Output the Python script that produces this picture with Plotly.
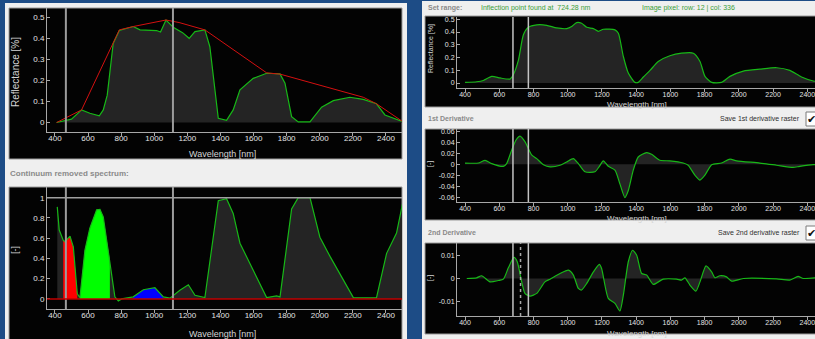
import plotly.graph_objects as go

W, H = 815, 339
FONT = "Liberation Sans Narrow, Arial Narrow, Liberation Sans, Arial, sans-serif"

# ---- spectrum of the selected pixel (left, with convex hull) ----
WL_LEFT = [410, 460, 500, 561, 611, 668, 692, 716, 752, 789, 873, 914, 1014, 1038, 1071,
           1115, 1171, 1211, 1246, 1306, 1336, 1387, 1437, 1477, 1518, 1598, 1679, 1760,
           1790, 1830, 1870, 1941, 2011, 2082, 2182, 2263, 2343, 2394, 2485, 2500]
REFL_LEFT = [0.0, 0.01, 0.016, 0.06, 0.044, 0.032, 0.06, 0.13, 0.376, 0.437, 0.456, 0.44,
             0.437, 0.43, 0.487, 0.452, 0.427, 0.40, 0.432, 0.44, 0.36, 0.02, 0.01, 0.06,
             0.155, 0.21, 0.234, 0.231, 0.187, 0.028, 0.003, 0.003, 0.073, 0.104, 0.12,
             0.11, 0.089, 0.036, 0.01, 0.005]
HULL_WL = [410, 561, 789, 873, 1071, 1150, 1306, 1679, 1760, 2263, 2343, 2500]
HULL_REFL = [0.0, 0.06, 0.44, 0.456, 0.487, 0.475, 0.44, 0.236, 0.23, 0.12, 0.089, 0.005]

# ---- continuum removed spectrum ----
CR_WL = [414, 426, 450, 460, 491, 511, 535, 551, 581, 611, 652, 672, 692, 732, 762, 783,
         803, 873, 934, 1004, 1055, 1095, 1155, 1206, 1246, 1306, 1387, 1437, 1477, 1518,
         1598, 1679, 1739, 1760, 1830, 1870, 1941, 2001, 2062, 2203, 2303, 2343, 2404,
         2464, 2500]
CR_VALUES = [0.91, 0.68, 0.58, 0.565, 0.62, 0.515, 0.05, 0.013, 0.48, 0.70, 0.88, 0.885,
             0.81, 0.38, 0.02, -0.02, 0.0, 0.02, 0.09, 0.11, 0.02, 0.007, 0.086, 0.14,
             0.036, 0.013, 0.97, 0.99, 0.845, 0.55, 0.28, 0.013, 0.03, 0.02, 0.89, 1.0,
             1.0, 0.61, 0.42, 0.013, 0.01, 0.013, 0.45, 0.65, 0.94]
BANDS_NM = [(445, 535), (551, 752), (863, 1055)]
BAND_COLORS = ["#ff0000", "#00ff00", "#0000ff"]

# ---- spectrum shown in the derivative view ----
WL_RIGHT = [400, 468, 507, 556, 604, 663, 682, 712, 741, 770, 819, 877, 935, 994, 1023,
            1052, 1081, 1111, 1150, 1179, 1208, 1276, 1296, 1325, 1354, 1393, 1412, 1442,
            1481, 1529, 1597, 1665, 1734, 1773, 1802, 1841, 1899, 1948, 2026, 2123, 2220,
            2298, 2366, 2435, 2460]
REFL_RIGHT = [0.005, 0.01, 0.02, 0.052, 0.04, 0.031, 0.065, 0.18, 0.378, 0.437, 0.456,
              0.453, 0.432, 0.427, 0.443, 0.474, 0.469, 0.437, 0.427, 0.406, 0.422, 0.417,
              0.39, 0.208, 0.078, 0.005, 0.005, 0.047, 0.099, 0.169, 0.214, 0.234, 0.234,
              0.169, 0.052, 0.005, 0.005, 0.052, 0.094, 0.109, 0.12, 0.099, 0.047, 0.016,
              0.012]

D1_WL = [400, 478, 517, 556, 624, 643, 673, 698, 721, 750, 789, 819, 858, 897, 955, 994,
         1033, 1062, 1101, 1159, 1185, 1208, 1237, 1276, 1305, 1334, 1354, 1383, 1412,
         1461, 1490, 1539, 1597, 1675, 1704, 1743, 1773, 1802, 1841, 1899, 1948, 1987,
         2123, 2220, 2317, 2356, 2435, 2460]
D1_VALUES = [0.002, 0.002, 0.007, 0.001, -0.004, 0.001, 0.026, 0.044, 0.051, 0.041, 0.017,
             0.010, -0.001, -0.005, -0.002, 0.004, 0.010, 0.001, -0.014, -0.014, -0.004,
             0.006, -0.004, -0.011, -0.036, -0.061, -0.048, -0.011, 0.013, 0.021, 0.018,
             0.007, 0.006, 0.002, -0.002, -0.020, -0.029, -0.020, -0.001, 0.002, 0.009,
             0.006, 0.002, -0.002, -0.006, -0.004, -0.001, -0.001]

D2_WL = [410, 468, 497, 546, 595, 624, 653, 686, 705, 731, 750, 780, 819, 867, 897, 955,
         1004, 1033, 1062, 1081, 1111, 1150, 1185, 1198, 1237, 1276, 1305, 1325, 1354,
         1379, 1403, 1432, 1461, 1500, 1558, 1636, 1665, 1685, 1714, 1749, 1773, 1808,
         1841, 1860, 1889, 1928, 1958, 2026, 2220, 2298, 2346, 2376, 2444, 2460]
D2_VALUES = [0.0, 0.0003, 0.0012, -0.0015, -0.0009, -0.0003, 0.0047, 0.0093, 0.0074,
             -0.0015, -0.0066, -0.0078, -0.0066, -0.0015, -0.0003, 0.0022, 0.0037, 0.0015,
             -0.0044, -0.0051, -0.0022, 0.0029, 0.0062, 0.0044, -0.0088, -0.011, -0.0144,
             -0.0074, 0.0074, 0.0125, 0.0103, 0.0022, 0.0015, -0.0026, -0.0003, -0.0003,
             -0.0007, 0.0003, -0.0029, -0.0056, -0.0015, 0.0056, 0.0029, 0.0003, 0.0012,
             0.0007, -0.0012, 0.0, -0.0002, -0.0007, 0.0009, 0.0, 0.0003, 0.0003]

# range markers (nm)
LEFT_MARKERS = [466, 1113]
RIGHT_MARKERS = [680, 770]
INFLECTION_NM = 724.28
PIXEL_ROW, PIXEL_COL = 12, 336

X_TICKS = [400, 600, 800, 1000, 1200, 1400, 1600, 1800, 2000, 2200, 2400]
REFL_TICKS = [0, 0.1, 0.2, 0.3, 0.4, 0.5]
REFL_TICKTEXT = ["0", "0.1", "0.2", "0.3", "0.4", "0.5"]
CR_TICKS = [0, 0.2, 0.4, 0.6, 0.8, 1]
CR_TICKTEXT = ["0", "0.2", "0.4", "0.6", "0.8", "1"]
D1_TICKS = [-0.06, -0.04, -0.02, 0, 0.02, 0.04, 0.06]
D1_TICKTEXT = ["-0.06", "-0.04", "-0.02", "0", "0.02", "0.04", "0.06"]
D2_TICKS = [-0.01, 0, 0.01]
D2_TICKTEXT = ["-0.01", "0", "0.01"]

# ---- colours ----
BLUE_BG = "#1d4c86"
PANEL = "#efefef"
PLOT_BG = "#030303"
AREA = "#242424"
GREEN = "#17b817"
HULL_RED = "#d41010"
AXIS = "#a8a8a8"
TICK_TXT = "#e4e4e4"
TITLE_TXT = "#d4d4d4"


def fx(px):
    return px / W


def fy(py):
    return 1 - py / H


fig = go.Figure()

# subplot frames in pixels: (x0, x1), (y_top, y_bottom), ranges, tick font size
frames = {
    1: dict(x=(47, 402), y=(8, 132), xr=[352, 2497], yr=[-0.045, 0.544],
            tv=REFL_TICKS, tt=REFL_TICKTEXT, fs=8, so=-5),
    2: dict(x=(47, 402), y=(187, 309), xr=[352, 2497], yr=[-0.10, 1.106],
            tv=CR_TICKS, tt=CR_TICKTEXT, fs=8, so=-5),
    3: dict(x=(457, 815), y=(17, 88), xr=[353, 2445], yr=[-0.039, 0.518],
            tv=REFL_TICKS, tt=REFL_TICKTEXT, fs=7, so=-3),
    4: dict(x=(457, 815), y=(129, 202), xr=[353, 2445], yr=[-0.069, 0.064],
            tv=D1_TICKS, tt=D1_TICKTEXT, fs=7, so=-3),
    5: dict(x=(457, 815), y=(243, 316), xr=[353, 2445], yr=[-0.0166, 0.0157],
            tv=D2_TICKS, tt=D2_TICKTEXT, fs=7, so=-3),
}

layout_axes = {}
for i, f in frames.items():
    sx = "" if i == 1 else str(i)
    layout_axes["xaxis" + sx] = dict(
        domain=[fx(f["x"][0]), fx(f["x"][1])], range=f["xr"], anchor="y" + sx,
        showline=True, linecolor=AXIS, linewidth=1, ticks="outside", ticklen=3,
        tickcolor=AXIS, tickvals=X_TICKS, showgrid=False, zeroline=False,
        ticklabelstandoff=f["so"], ticklabeloverflow="allow",
        tickfont=dict(family=FONT, size=f["fs"], color=TICK_TXT), fixedrange=True)
    layout_axes["yaxis" + sx] = dict(
        domain=[fy(f["y"][1]), fy(f["y"][0])], range=f["yr"], anchor="x" + sx,
        showline=True, linecolor=AXIS, linewidth=1, ticks="inside", ticklen=3,
        tickcolor=AXIS, tickvals=f["tv"], ticktext=f["tt"], showgrid=False,
        zeroline=False, tickfont=dict(family=FONT, size=f["fs"], color=TICK_TXT),
        fixedrange=True)


def area(xs, ys, ax, smooth=False, fill=AREA, line=GREEN, width=1.2):
    sx = "" if ax == 1 else str(ax)
    fig.add_trace(go.Scatter(
        x=xs, y=ys, xaxis="x" + sx, yaxis="y" + sx, mode="lines",
        line=dict(color=line, width=width, shape="spline" if smooth else "linear",
                  smoothing=0.6),
        fill="tozeroy", fillcolor=fill, hoverinfo="skip", showlegend=False))


# left top: spectrum + hull
area(WL_LEFT, REFL_LEFT, 1)
fig.add_trace(go.Scatter(x=HULL_WL, y=HULL_REFL, xaxis="x", yaxis="y", mode="lines",
                         line=dict(color=HULL_RED, width=1), hoverinfo="skip",
                         showlegend=False))

# left bottom: continuum removed spectrum with coloured absorption bands
area(CR_WL, CR_VALUES, 2, line="rgba(0,0,0,0)")
for (lo, hi), col in zip(BANDS_NM, BAND_COLORS):
    bx = [w for w in CR_WL if lo <= w <= hi]
    by = [v for w, v in zip(CR_WL, CR_VALUES) if lo <= w <= hi]
    fig.add_trace(go.Scatter(x=bx, y=by, xaxis="x2", yaxis="y2", mode="lines",
                             line=dict(width=0, color=col), fill="tozeroy",
                             fillcolor=col, hoverinfo="skip", showlegend=False))
fig.add_trace(go.Scatter(x=CR_WL, y=CR_VALUES, xaxis="x2", yaxis="y2", mode="lines",
                         line=dict(color=GREEN, width=1.2), hoverinfo="skip",
                         showlegend=False))

# right column
area(WL_RIGHT, REFL_RIGHT, 3, smooth=True)
area(D1_WL, D1_VALUES, 4, smooth=True)
area(D2_WL, D2_VALUES, 5, smooth=True)

shapes = []


def prect(x0, y0, x1, y1, color, line=None):
    shapes.append(dict(type="rect", xref="paper", yref="paper", layer="below",
                       x0=fx(x0), x1=fx(x1), y0=fy(y1), y1=fy(y0), fillcolor=color,
                       line=dict(width=1 if line else 0, color=line or color)))


# window panels
prect(5, 3, 407, 339, PANEL)
prect(422, 1, 815, 339, PANEL)
prect(9, 8, 402, 159, PLOT_BG, "#9a9a9a")
prect(9, 187, 402, 345, PLOT_BG, "#9a9a9a")
prect(425, 16, 818, 107, PLOT_BG, "#9a9a9a")
prect(425, 129, 818, 220, PLOT_BG, "#9a9a9a")
prect(425, 243, 818, 334, PLOT_BG, "#9a9a9a")
# check boxes
prect(806, 112, 818, 126, "#ffffff", "#7a7a7a")
prect(806, 226, 818, 240, "#ffffff", "#7a7a7a")

# range markers
for ax, marks in ((1, LEFT_MARKERS), (2, LEFT_MARKERS)):
    sx = "" if ax == 1 else str(ax)
    for m in marks:
        shapes.append(dict(type="line", xref="x" + sx, yref="y" + sx + " domain",
                           x0=m, x1=m, y0=0, y1=1, layer="above",
                           line=dict(color="#9c9c9c", width=2)))
for ax in (3, 4, 5):
    for m in RIGHT_MARKERS:
        shapes.append(dict(type="line", xref="x%d" % ax, yref="y%d domain" % ax,
                           x0=m, x1=m, y0=0, y1=1, layer="above",
                           line=dict(color="#c4c4c4", width=1.5)))
shapes.append(dict(type="line", xref="x5", yref="y5 domain", x0=INFLECTION_NM,
                   x1=INFLECTION_NM, y0=0, y1=1, layer="above",
                   line=dict(color="#a8a8a8", width=1.5, dash="dot")))

# continuum reference lines
shapes.append(dict(type="line", xref="x2 domain", yref="y2", x0=0, x1=1, y0=1, y1=1,
                   layer="above", line=dict(color="#a0a0a0", width=1.5)))
shapes.append(dict(type="line", xref="x2 domain", yref="y2", x0=0, x1=1, y0=0, y1=0,
                   layer="above", line=dict(color="#c00000", width=1.5)))

ann = []


def text(s, x, y, color, size=9, xanchor="left", bold=False, angle=0):
    ann.append(dict(text="<b>%s</b>" % s if bold else s, x=fx(x), y=fy(y),
                    xref="paper", yref="paper", xanchor=xanchor, yanchor="middle",
                    showarrow=False, textangle=angle,
                    font=dict(family=FONT, size=size, color=color)))


# axis titles
text("Reflectance [%]", 15, 72, TITLE_TXT, 10, "center", angle=-90)
text("Wavelength [nm]", 223, 154, TITLE_TXT, 9, "center")
text("[-]", 15, 250, TITLE_TXT, 9, "center", angle=-90)
text("Wavelength [nm]", 223, 334, TITLE_TXT, 9, "center")
text("Reflectance [%]", 431, 48, TITLE_TXT, 7, "center", angle=-90)
text("Wavelength [nm]", 637, 104, TITLE_TXT, 8, "center")
text("[-]", 430, 164, TITLE_TXT, 7, "center", angle=-90)
text("Wavelength [nm]", 637, 218, TITLE_TXT, 8, "center")
text("[-]", 430, 278, TITLE_TXT, 7, "center", angle=-90)
text("Wavelength [nm]", 637, 333, TITLE_TXT, 8, "center")

# panel headers
text("Continuum removed spectrum:", 8, 173, "#8a8a8a", 8, bold=True)
text("Set range:", 426, 8, "#8a8a8a", 7, bold=True)
text("Inflection point found at  %.2f nm" % INFLECTION_NM, 479, 8, "#3a9e3a", 7)
text("Image pixel: row: %d | col: %d" % (PIXEL_ROW, PIXEL_COL), 640, 8, "#3a9e3a", 7)
text("1st Derivative", 426, 119, "#8a8a8a", 7, bold=True)
text("Save 1st derivative raster", 802, 119, "#303030", 7, "right")
text("2nd Derivative", 426, 232, "#8a8a8a", 7, bold=True)
text("Save 2nd derivative raster", 802, 232, "#303030", 7, "right")
text("\u2714", 811, 119, "#111111", 11, "center")
text("\u2714", 811, 233, "#111111", 11, "center")

fig.update_layout(
    width=W, height=H, autosize=False, margin=dict(l=0, r=0, t=0, b=0, pad=0),
    paper_bgcolor=BLUE_BG, plot_bgcolor="rgba(0,0,0,0)", showlegend=False,
    shapes=shapes, annotations=ann, **layout_axes)

fig.write_html("out.html", config={"displayModeBar": False})
